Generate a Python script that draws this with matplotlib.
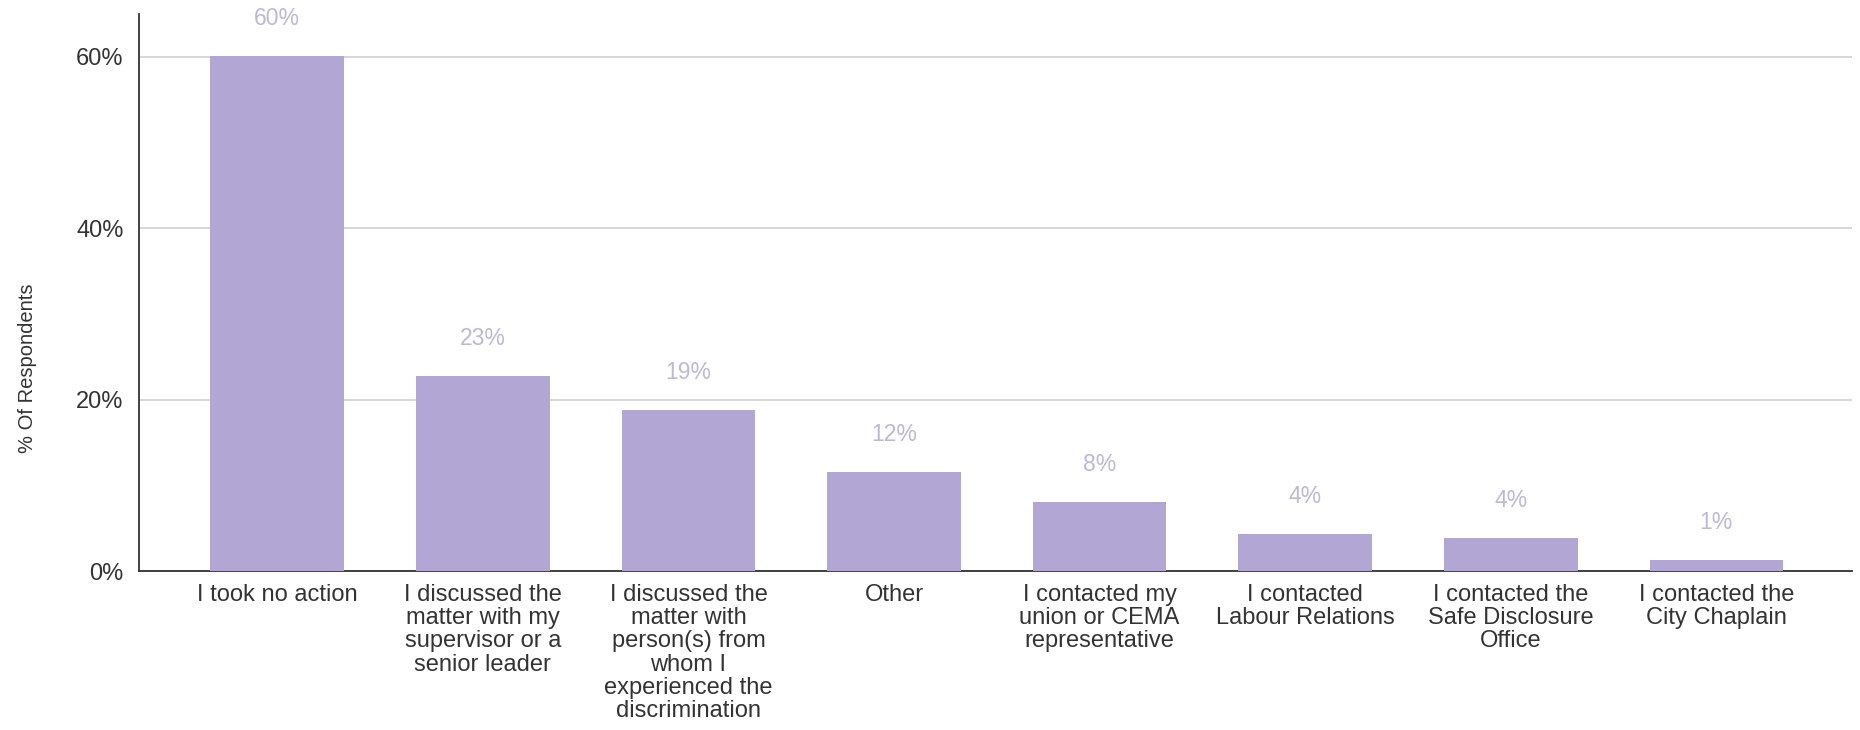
import numpy as np
import matplotlib.pyplot as plt

plt.rcParams["font.family"] = ["Liberation Sans", "DejaVu Sans"]

# response categories (wrapped as shown under the axis)
categories = [
    "I took no action",
    "I discussed the\nmatter with my\nsupervisor or a\nsenior leader",
    "I discussed the\nmatter with\nperson(s) from\nwhom I\nexperienced the\ndiscrimination",
    "Other",
    "I contacted my\nunion or CEMA\nrepresentative",
    "I contacted\nLabour Relations",
    "I contacted the\nSafe Disclosure\nOffice",
    "I contacted the\nCity Chaplain",
]
# share of respondents, percent
share = [60.1, 22.8, 18.8, 11.6, 8.1, 4.3, 3.8, 1.3]
yticks = [0, 20, 40, 60]

BAR = "#b1a6d4"
LABEL = "#bdb8d9"
TEXT = "#333333"


def plot_data():
    fig = plt.figure(figsize=(18.6, 7.3), dpi=100)
    ax = fig.add_axes([0.0747, 0.2178, 0.921, 0.763])

    x = np.arange(len(categories))
    ax.bar(x, share, width=0.65, color=BAR, zorder=3)

    for xi, v in zip(x, share):
        ax.annotate(f"{round(v)}%", (xi, v), xytext=(0, 27), textcoords="offset points",
                    ha="center", va="center", fontsize=16.5, color=LABEL)

    ax.set_xlim(-0.673, 7.66)
    ax.set_ylim(0, 65)
    ax.set_yticks(yticks)
    ax.set_yticklabels([f"{t}%" for t in yticks])
    ax.set_xticks(x)
    ax.set_xticklabels(categories, linespacing=1.08)

    ax.tick_params(axis="both", length=0, labelsize=17, colors=TEXT)
    ax.tick_params(axis="y", pad=11)
    ax.tick_params(axis="x", pad=9)

    ax.grid(axis="y", color="#cccccc", linewidth=1.1, zorder=0)
    for s in ["top", "right"]:
        ax.spines[s].set_visible(False)
    ax.spines["left"].set_color("#333333")
    ax.spines["bottom"].set_color("#333333")
    ax.spines["left"].set_linewidth(1.3)
    ax.spines["bottom"].set_linewidth(1.3)

    fig.text(0.015, 0.496, "% Of Respondents", rotation=90, ha="center", va="center",
             fontsize=14.5, color=TEXT)

    fig.savefig("out.png", dpi=100)


if __name__ == "__main__":
    plot_data()
